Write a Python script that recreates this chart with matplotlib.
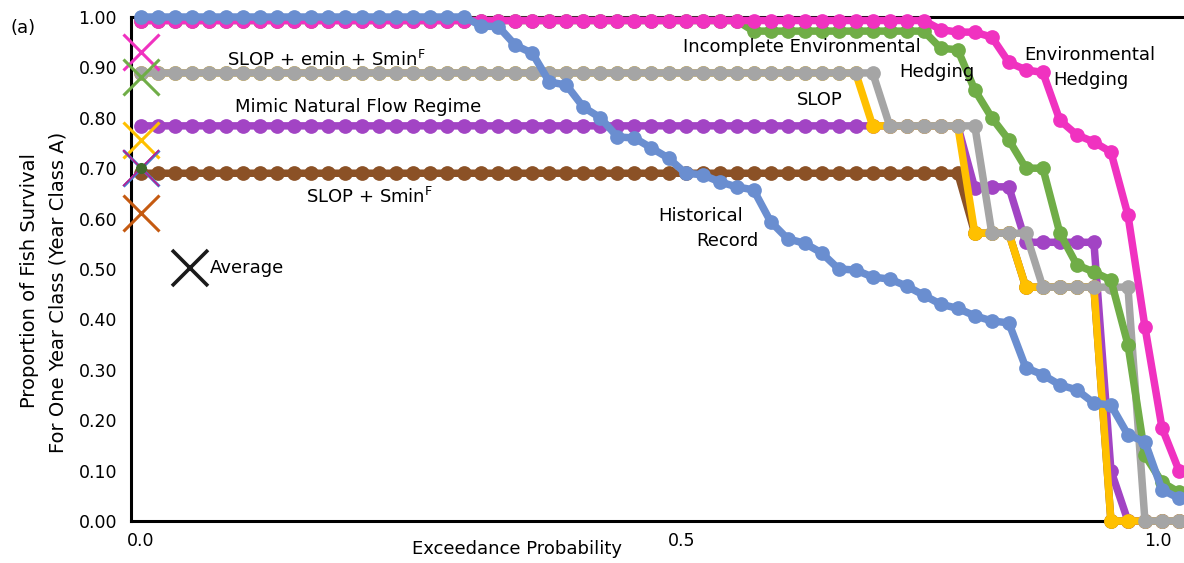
import numpy as np
import matplotlib
matplotlib.use('Agg')
import matplotlib.pyplot as plt

plt.rcParams['font.family'] = ['DejaVu Sans']

# exceedance probability of each simulated year (Weibull plotting position)
n_years = 62
exceedance = np.arange(1, n_years + 1) / (n_years + 1)

historical = [1.00] * 20 + [0.982, 0.981, 0.944, 0.928, 0.871, 0.865, 0.821, 0.800,
                            0.762, 0.760, 0.740, 0.720, 0.690, 0.687, 0.673, 0.663,
                            0.657, 0.594, 0.560, 0.551, 0.532, 0.500, 0.498, 0.484,
                            0.480, 0.466, 0.448, 0.430, 0.422, 0.407, 0.397, 0.393,
                            0.304, 0.290, 0.270, 0.260, 0.234, 0.230, 0.171, 0.157,
                            0.062, 0.045]
env_hedging = [0.993] * 47 + [0.975, 0.970, 0.970, 0.960, 0.910, 0.895, 0.890, 0.795,
                              0.766, 0.752, 0.732, 0.607, 0.385, 0.185, 0.100]
incomplete_hedging = [0.993] * 36 + [0.972] * 11 + [0.938, 0.935, 0.855, 0.800, 0.756,
                                                    0.700, 0.700, 0.571, 0.508, 0.494,
                                                    0.478, 0.350, 0.130, 0.077, 0.057]
mimic_flow = [0.784] * 49 + [0.660, 0.663, 0.663] + [0.553] * 5 + [0.100] + [0.0] * 4
slop = [0.889] * 43 + [0.784] * 6 + [0.571] * 3 + [0.464] * 5 + [0.0] * 5
slop_emin_smin = [0.889] * 44 + [0.784] * 6 + [0.571] * 3 + [0.464] * 6 + [0.0] * 3
slop_smin = [0.690] * 49 + [0.571] * 3 + [0.464] * 5 + [0.0] * 5

# average survival of each scenario, drawn as X's on the left axis
avg_values = [0.930, 0.880, 0.755, 0.700, 0.700, 0.611]
avg_colors = ['#F032C0', '#70AD47', '#FFC000', '#4A78CC', '#C0188F', '#C55A11']
avg_widths = [2.2, 2.2, 2.2, 2.2, 1.1, 2.2]
avg_green_dot = 0.700
legend_avg = 0.502

ytick_vals = np.arange(0, 1.01, 0.1)
xtick_pos = [0.0159, 0.5205, 0.9646]
xtick_labels = ['0.0', '0.5', '1.0']

W, H = 1184, 563
fig = plt.figure(figsize=(W / 100, H / 100), dpi=100)
ax = fig.add_axes([131 / W, 1 - 521 / H, 1 - 131 / W, (521 - 17) / H])

series = [
    (slop_smin, '#8B5126'),
    (mimic_flow, '#A244C4'),
    (slop, '#FFC000'),
    (slop_emin_smin, '#A5A5A5'),
    (incomplete_hedging, '#70AD47'),
    (env_hedging, '#F032C0'),
    (historical, '#6A8ED0'),
]
for z, (vals, col) in enumerate(series):
    ax.plot(exceedance, vals, '-o', color=col, lw=5.4, ms=10.6, mew=0,
            clip_on=False, zorder=3 + z)

x0 = exceedance[0]
for v, c, w in zip(avg_values, avg_colors, avg_widths):
    ax.plot(x0, v, 'x', color=c, ms=26, mew=w, clip_on=False, zorder=12)
ax.plot(x0, avg_green_dot, 'o', color='#3F6B2C', ms=8, mew=0, clip_on=False, zorder=13)
ax.plot(0.0616, legend_avg, 'x', color='#1A1A1A', ms=26, mew=2.6, clip_on=False, zorder=12)

ax.set_xlim(0.00653, 0.9888)
ax.set_ylim(0, 1.0)
ax.set_yticks(ytick_vals)
ax.set_yticklabels(['%.2f' % v for v in ytick_vals], fontsize=12.5)
ax.set_xticks(xtick_pos)
ax.set_xticklabels(xtick_labels, fontsize=12.5)
ax.tick_params(length=0)
ax.tick_params(axis='y', pad=10)
ax.tick_params(axis='x', pad=8)
for s in ['left', 'bottom', 'top']:
    ax.spines[s].set_linewidth(2.2)
ax.spines['right'].set_visible(False)


def label(px, py, s, ha='center', size=13, **kw):
    fig.text(px / W, 1 - py / H, s, ha=ha, va='center', fontsize=size, **kw)


label(23, 28, '(a)', size=13)
label(30, 280, 'Proportion of Fish Survival', size=14, rotation=90)
label(58, 292, 'For One Year Class (Year Class A)', size=14, rotation=90)
label(517, 549, 'Exceedance Probability')
label(326, 60, r'SLOP + emin + Smin$^{\mathrm{F}}$')
label(358, 107, 'Mimic Natural Flow Regime')
label(370, 197, r'SLOP + Smin$^{\mathrm{F}}$')
label(701, 216, 'Historical')
label(727, 241, 'Record')
label(802, 47, 'Incomplete Environmental')
label(937, 72, 'Hedging')
label(820, 100, 'SLOP')
label(1090, 55, 'Environmental')
label(1091, 80, 'Hedging')
label(210, 268, 'Average', ha='left')

fig.savefig('out.png', dpi=100)
